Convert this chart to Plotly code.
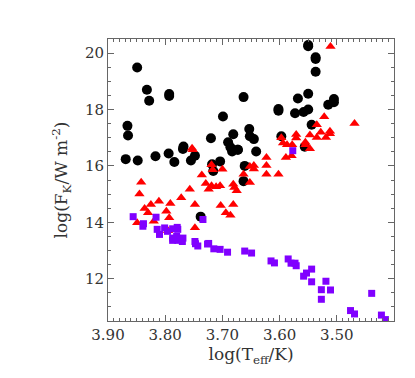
import plotly.graph_objects as go

# black circles
bx = [3.849, 3.832, 3.828, 3.793, 3.793, 3.866, 3.865, 3.768, 3.769, 3.720, 3.699,
      3.690, 3.686, 3.683, 3.681, 3.673, 3.663, 3.653, 3.652, 3.645, 3.602, 3.602,
      3.597, 3.573, 3.568, 3.558, 3.550, 3.550, 3.550, 3.550, 3.544, 3.537, 3.537,
      3.537, 3.515, 3.505, 3.505, 3.869, 3.848, 3.817, 3.794, 3.784, 3.755, 3.748,
      3.718, 3.716, 3.704, 3.673, 3.661, 3.663, 3.641, 3.556, 3.738]
by = [19.49, 18.70, 18.31, 18.55, 18.48, 17.42, 17.08, 16.69, 16.60, 16.98, 17.75,
      16.84, 16.66, 16.51, 17.12, 16.57, 18.44, 17.31, 17.05, 16.95, 18.02, 17.96,
      17.05, 17.87, 18.39, 17.91, 18.00, 20.29, 20.24, 18.56, 17.46, 19.85, 19.79,
      19.34, 18.17, 18.37, 18.26, 16.24, 16.19, 16.34, 16.44, 16.14, 16.19, 16.36,
      16.06, 15.82, 16.16, 16.57, 16.00, 15.46, 16.51, 16.68, 14.20]

# red triangles
rx = [3.511, 3.469, 3.522, 3.535, 3.528, 3.512, 3.512, 3.547, 3.535, 3.519, 3.571,
      3.571, 3.597, 3.594, 3.587, 3.578, 3.555, 3.555, 3.753, 3.589, 3.579, 3.547,
      3.623, 3.623, 3.623, 3.602, 3.645, 3.645, 3.652, 3.663, 3.652, 3.681, 3.679,
      3.675, 3.700, 3.719, 3.717, 3.736, 3.729, 3.724, 3.719, 3.711, 3.704, 3.752,
      3.757, 3.772, 3.791, 3.811, 3.825, 3.836, 3.830, 3.798, 3.793, 3.842, 3.845,
      3.849, 3.820, 3.748, 3.748, 3.703, 3.694, 3.686, 3.681, 3.795]
ry = [20.23, 17.50, 17.74, 17.46, 17.19, 17.23, 17.14, 17.10, 17.01, 17.01, 17.11,
      16.99, 17.00, 16.81, 16.75, 16.75, 16.84, 16.75, 16.63, 16.30, 16.36, 16.61,
      16.30, 16.01, 15.70, 15.70, 16.01, 15.89, 15.98, 15.70, 15.41, 15.35, 15.23,
      15.12, 15.88, 16.04, 15.86, 15.68, 15.38, 15.17, 15.30, 15.26, 15.30, 16.57,
      15.17, 14.87, 14.67, 14.75, 14.63, 14.49, 14.34, 14.39, 14.16, 15.42, 15.00,
      13.98, 14.04, 14.63, 13.81, 14.60, 14.34, 14.25, 14.63, 13.70]

# purple squares
px = [3.856, 3.838, 3.839, 3.816, 3.814, 3.810, 3.801, 3.796, 3.787, 3.779, 3.778,
      3.787, 3.787, 3.780, 3.778, 3.770, 3.769, 3.748, 3.747, 3.743, 3.734, 3.726,
      3.724, 3.715, 3.704, 3.691, 3.661, 3.649, 3.615, 3.609, 3.585, 3.580, 3.573,
      3.571, 3.558, 3.553, 3.544, 3.544, 3.527, 3.527, 3.519, 3.511, 3.476, 3.469,
      3.439, 3.422, 3.415, 3.577]
py = [14.20, 13.95, 13.86, 14.18, 13.75, 13.57, 13.80, 13.68, 13.77, 13.82, 13.75,
      13.44, 13.36, 13.50, 13.36, 13.32, 13.44, 13.32, 13.24, 13.16, 14.10, 13.23,
      13.25, 13.06, 13.04, 12.94, 12.98, 12.91, 12.63, 12.56, 12.70, 12.55, 12.55,
      12.46, 12.09, 12.20, 12.34, 11.89, 11.61, 11.27, 11.91, 11.60, 10.87, 10.75,
      11.48, 10.71, 10.55, 16.54]

fig = go.Figure()
fig.add_trace(go.Scatter(x=bx, y=by, mode="markers",
                         marker=dict(symbol="circle", size=10, color="black")))
fig.add_trace(go.Scatter(x=rx, y=ry, mode="markers",
                         marker=dict(symbol="triangle-up", size=9, color="#ff0000")))
fig.add_trace(go.Scatter(x=px, y=py, mode="markers",
                         marker=dict(symbol="square", size=7, color="#8000ff")))

axis = dict(showline=True, linecolor="#666666", linewidth=1, mirror="allticks",
            ticks="inside", ticklen=6, tickcolor="#666666", showgrid=False,
            zeroline=False, tickfont=dict(size=15, color="#333333"))

fig.update_xaxes(range=[3.90, 3.40], tickvals=[3.90, 3.80, 3.70, 3.60, 3.50],
                 tickformat=".2f",
                 minor=dict(dtick=0.01, ticks="inside", ticklen=3, tickcolor="#666666"),
                 title=dict(text="log(T<sub>eff</sub>/K)", font=dict(size=17, color="#333333"),
                            standoff=4),
                 **axis)
fig.update_yaxes(range=[10.5, 20.5], tickvals=[12, 14, 16, 18, 20],
                 minor=dict(dtick=0.5, ticks="inside", ticklen=3, tickcolor="#666666"),
                 title=dict(text="log(F<sub>K</sub>/W m<sup>-2</sup>)",
                            font=dict(size=17, color="#333333"), standoff=12),
                 **axis)

fig.update_layout(width=415, height=378, showlegend=False,
                  margin=dict(l=100, r=29, t=31, b=65),
                  plot_bgcolor="white", paper_bgcolor="white",
                  font=dict(family="DejaVu Serif, serif"))

fig.write_html("out.html")
